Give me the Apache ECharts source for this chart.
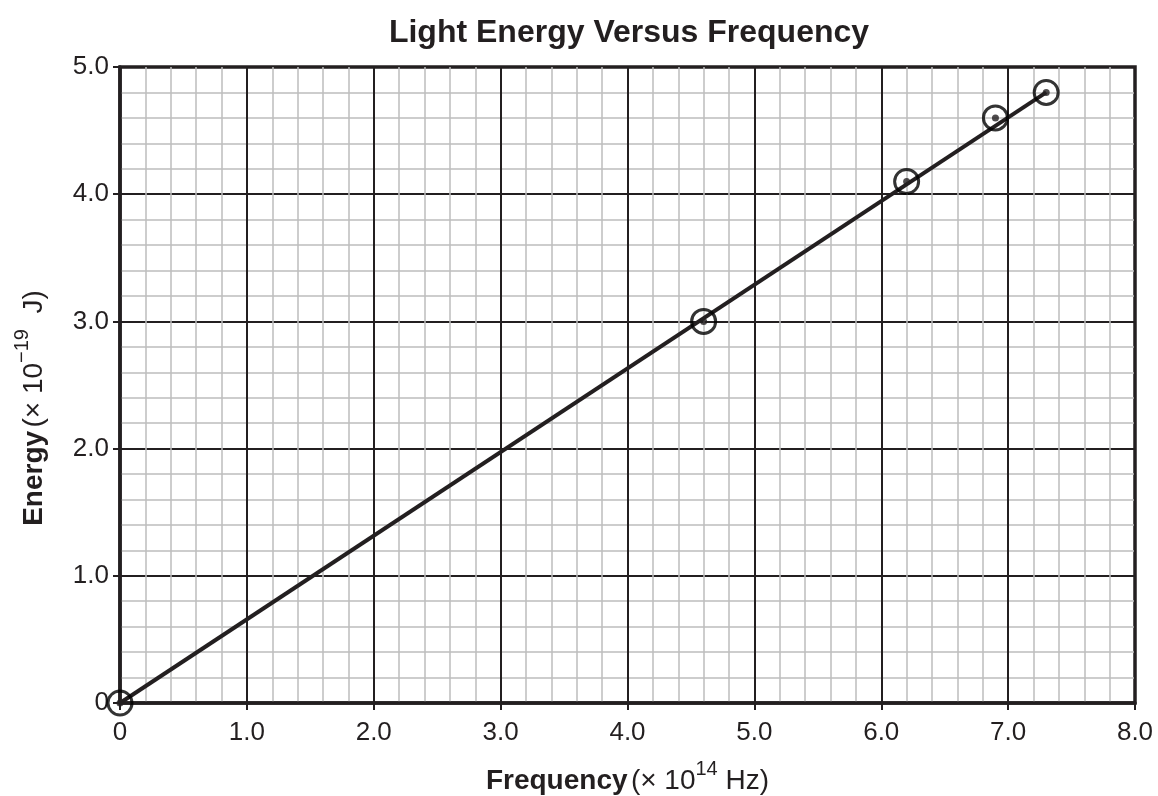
<!DOCTYPE html>
<html>
<head>
<meta charset="utf-8">
<script src="https://cdn.jsdelivr.net/npm/echarts@6/dist/echarts.min.js"></script>
<style>
  html, body { margin: 0; padding: 0; background: #fff; }
  #chart { width: 1158px; height: 796px; }
</style>
</head>
<body>
<div id="chart"></div>
<script>
// measured points
var frequency = [0, 4.6, 6.2, 6.9, 7.3];
var energy = [0, 3.0, 4.1, 4.6, 4.8];
// best-fit line ends
var fitX = [0, 7.3];
var fitY = [0, 4.8];

var ink = '#231f20';
var font = 'Liberation Sans, Arial, Helvetica, sans-serif';

function pairs(xs, ys) {
  return xs.map(function (x, i) { return [x, ys[i]]; });
}
function tickLabel(v) {
  return v === 0 ? '0' : v.toFixed(1);
}
function nameRich() {
  return {
    b: { fontFamily: font, fontSize: 28, fontWeight: 'bold', color: ink, lineHeight: 36, verticalAlign: 'bottom' },
    n: { fontFamily: font, fontSize: 28, color: ink, lineHeight: 36, verticalAlign: 'bottom' },
    s: { fontFamily: font, fontSize: 20, color: ink, lineHeight: 36, verticalAlign: 'top' }
  };
}

var chart = echarts.init(document.getElementById('chart'));
chart.setOption({
  backgroundColor: '#fff',
  animation: false,
  title: {
    text: 'Light Energy Versus Frequency',
    left: 624,
    textAlign: 'center',
    top: 12,
    textStyle: { color: ink, fontFamily: font, fontSize: 32, fontWeight: 'bold' }
  },
  grid: {
    left: 120, right: 23, top: 67, bottom: 93,
    outerBoundsMode: 'none',
    show: true, borderColor: ink, borderWidth: 3.5
  },
  xAxis: {
    type: 'value', min: 0, max: 8, interval: 1,
    name: '{b|Frequency} {n|(× 10}{s|14}{n| Hz)}',
    nameLocation: 'middle',
    nameGap: 56,
    nameTextStyle: { rich: nameRich() },
    axisLine: { lineStyle: { color: ink, width: 3.5 } },
    axisTick: { show: true, length: 7, lineStyle: { color: ink, width: 2 } },
    axisLabel: { formatter: tickLabel, color: ink, fontFamily: font, fontSize: 26, margin: 17 },
    splitLine: { lineStyle: { color: ink, width: 2 } },
    minorTick: { show: false, splitNumber: 5 },
    minorSplitLine: { show: true, lineStyle: { color: '#bdbdbd', width: 1.5 } }
  },
  yAxis: {
    type: 'value', min: 0, max: 5, interval: 1,
    name: '{b|Energy} {n|(× 10}{s|−19}{n|  J)}',
    nameLocation: 'middle',
    nameRotate: 90,
    nameGap: 72,
    nameTextStyle: { rich: nameRich(), padding: [0, 46, 0, 0] },
    axisLine: { lineStyle: { color: ink, width: 3.5 } },
    axisTick: { show: true, length: 7, lineStyle: { color: ink, width: 2 } },
    axisLabel: { formatter: tickLabel, color: ink, fontFamily: font, fontSize: 26, margin: 11 },
    splitLine: { lineStyle: { color: ink, width: 2 } },
    minorTick: { show: false, splitNumber: 5 },
    minorSplitLine: { show: true, lineStyle: { color: '#bdbdbd', width: 1.5 } }
  },
  series: [
    {
      type: 'line',
      data: pairs(fitX, fitY),
      showSymbol: false,
      lineStyle: { color: ink, width: 4 },
      z: 3
    },
    {
      type: 'scatter',
      data: pairs(frequency, energy),
      symbol: 'circle',
      symbolSize: 24,
      itemStyle: { color: 'transparent', borderColor: '#000', borderWidth: 3 },
      z: 4
    },
    {
      type: 'scatter',
      data: pairs(frequency, energy),
      symbol: 'circle',
      symbolSize: 7,
      itemStyle: { color: ink },
      z: 5
    }
  ]
});
</script>
</body>
</html>
